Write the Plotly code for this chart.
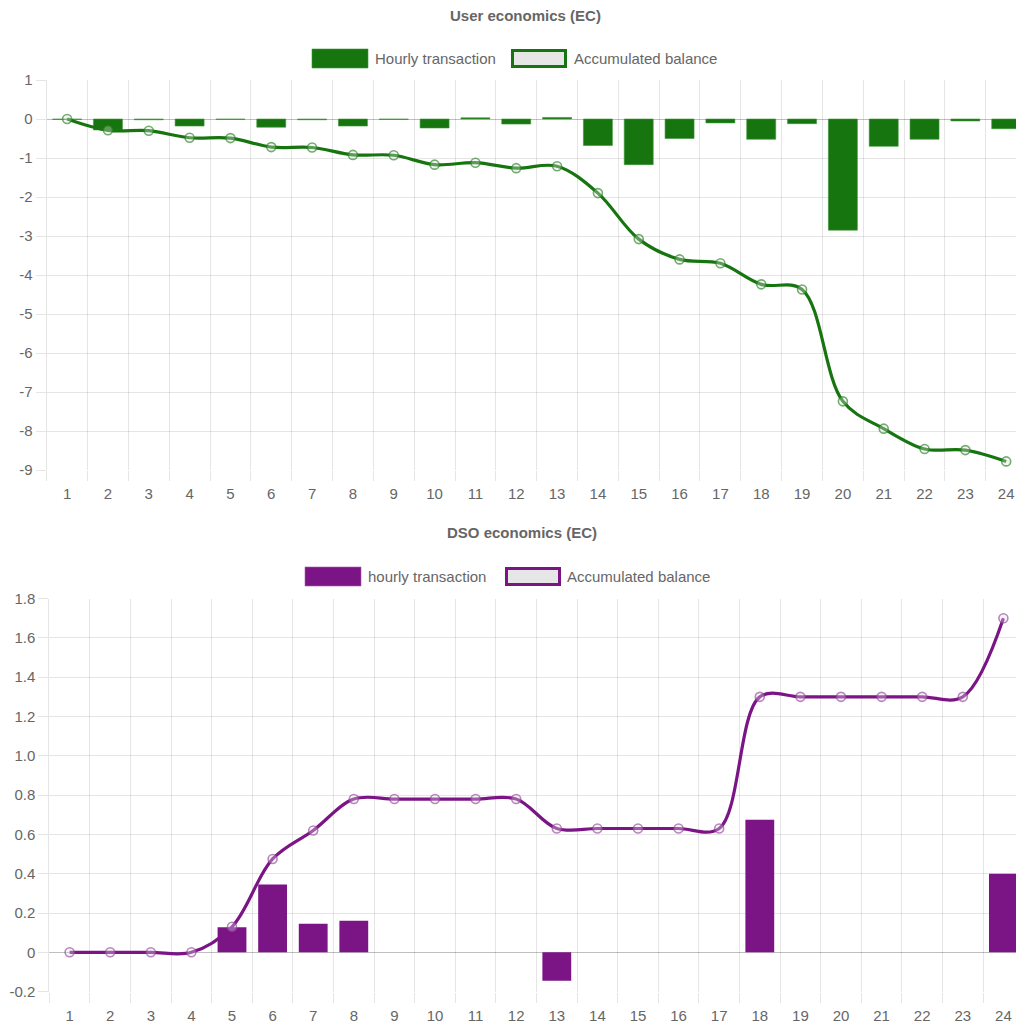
import plotly.graph_objects as go

# ---------------- data ----------------
hours = list(range(1, 25))
hour_labels = [str(h) for h in hours]

user_hourly = [-0.01, -0.28, -0.02, -0.18, -0.01, -0.21, -0.02, -0.18, -0.01, -0.23, 0.03, -0.13,
               0.04, -0.68, -1.17, -0.50, -0.10, -0.52, -0.12, -2.85, -0.70, -0.52, -0.05, -0.25]
user_balance = [0.0, -0.29, -0.30, -0.48, -0.49, -0.72, -0.73, -0.92, -0.93, -1.17, -1.12, -1.26,
                -1.21, -1.90, -3.08, -3.60, -3.70, -4.24, -4.37, -7.24, -7.94, -8.46, -8.49, -8.78]

dso_hourly = [0, 0, 0, 0, 0.127, 0.345, 0.145, 0.16, 0, 0, 0, 0,
              -0.145, 0, 0, 0, 0, 0.675, 0, 0, 0, 0, 0, 0.40]
dso_balance = [0.0, 0.0, 0.0, 0.0, 0.13, 0.475, 0.62, 0.78, 0.78, 0.78, 0.78, 0.78,
               0.63, 0.63, 0.63, 0.63, 0.63, 1.30, 1.30, 1.30, 1.30, 1.30, 1.30, 1.70]

user_title = "User economics (EC)"
dso_title = "DSO economics (EC)"
user_legend = ["Hourly transaction", "Accumulated balance"]
dso_legend = ["hourly transaction", "Accumulated balance"]

user_ticks = [-9, -8, -7, -6, -5, -4, -3, -2, -1, 0, 1]
dso_ticks = [-0.2, 0, 0.2, 0.4, 0.6, 0.8, 1.0, 1.2, 1.4, 1.6, 1.8]
dso_tick_text = ["-0.2", "0", "0.2", "0.4", "0.6", "0.8", "1.0", "1.2", "1.4", "1.6", "1.8"]

# ---------------- styles ----------------
W, H = 1016, 1023
GREEN = "rgb(23,117,16)"
GREEN_EDGE = "rgba(60,150,55,0.6)"
PURPLE = "rgb(123,21,134)"
PURPLE_EDGE = "rgba(170,90,180,0.6)"
FONT = "Liberation Sans, Arial, Helvetica, sans-serif"
TXT = "#666666"
GRID = "rgba(0,0,0,0.1)"
FS = 15


def px(x):
    return x / W


def py(y):
    return 1 - y / H


fig = go.Figure()

# top chart
fig.add_trace(go.Bar(x=hours, y=user_hourly, width=0.71, marker=dict(color=GREEN, line=dict(color=GREEN_EDGE, width=1)),
                     xaxis="x", yaxis="y", showlegend=False, name=user_legend[0]))
fig.add_trace(go.Scatter(x=hours, y=user_balance, mode="lines+markers",
                         line=dict(color=GREEN, width=3.2, shape="spline", smoothing=1.0),
                         marker=dict(symbol="circle", size=9, color="rgba(225,225,225,0.35)",
                                     line=dict(color="rgba(40,130,35,0.65)", width=1.6)),
                         xaxis="x", yaxis="y", showlegend=False, name=user_legend[1]))

# bottom chart
fig.add_trace(go.Bar(x=hours, y=dso_hourly, width=0.71, marker=dict(color=PURPLE, line=dict(width=0)),
                     xaxis="x2", yaxis="y2", showlegend=False, name=dso_legend[0]))
fig.add_trace(go.Scatter(x=hours, y=dso_balance, mode="lines+markers",
                         line=dict(color=PURPLE, width=3.2, shape="spline", smoothing=1.0),
                         marker=dict(symbol="circle", size=9, color="rgba(225,225,225,0.35)",
                                     line=dict(color="rgba(150,70,160,0.65)", width=1.6)),
                         xaxis="x2", yaxis="y2", showlegend=False, name=dso_legend[1]))

boundaries = [h - 0.5 for h in hours]


def xaxis(domain_left, rng, anchor):
    return dict(domain=[px(domain_left), 1], range=rng, anchor=anchor, automargin=False,
                tickmode="array", tickvals=hours, ticktext=hour_labels,
                ticks="outside", ticklen=10, tickcolor="rgba(0,0,0,0)",
                showgrid=False, zeroline=False, showline=False,
                tickfont=dict(family=FONT, size=FS, color=TXT),
                minor=dict(tickmode="array", tickvals=boundaries, showgrid=True, gridcolor=GRID, gridwidth=1,
                           ticks="outside", ticklen=10, tickcolor=GRID, tickwidth=1))


def yaxis(dom, rng, tv, tt, anchor):
    return dict(domain=dom, range=rng, anchor=anchor, automargin=False, tickmode="array", tickvals=tv, ticktext=tt,
                ticks="outside", ticklen=10, tickcolor=GRID, showgrid=True, gridcolor=GRID, gridwidth=1,
                zeroline=True, zerolinecolor="rgba(0,0,0,0.25)", zerolinewidth=1,
                showline=True, linecolor=GRID, linewidth=1,
                tickfont=dict(family=FONT, size=FS, color=TXT))


fig.update_layout(
    width=W, height=H, margin=dict(l=0, r=0, t=0, b=0, pad=0, autoexpand=False),
    paper_bgcolor="white", plot_bgcolor="white",
    barmode="overlay", showlegend=False,
    xaxis=xaxis(46.7, [0.5, 0.5 + (W - 46.7) / 40.83], "y"),
    yaxis=yaxis([py(470), py(80)], [-9, 1], user_ticks, [str(t) for t in user_ticks], "x"),
    xaxis2=xaxis(49.3, [0.5, 0.5 + (W - 49.3) / 40.6], "y2"),
    yaxis2=yaxis([py(991.6), py(598.6)], [-0.2, 1.8], dso_ticks, dso_tick_text, "x2"),
)

shapes = []
annotations = []


def add_title(text, cx, cy):
    annotations.append(dict(text="<b>" + text + "</b>", x=px(cx), y=py(cy), xref="paper", yref="paper",
                            xanchor="center", yanchor="middle", showarrow=False,
                            font=dict(family=FONT, size=FS, color=TXT)))


def add_legend(labels, color, edge, box1_x, box2_x, y0, y1, text1_x, text2_x):
    shapes.append(dict(type="rect", xref="paper", yref="paper", x0=px(box1_x), x1=px(box1_x + 56),
                       y0=py(y1), y1=py(y0), fillcolor=color, line=dict(color=edge, width=1)))
    shapes.append(dict(type="rect", xref="paper", yref="paper", x0=px(box2_x + 1.5), x1=px(box2_x + 54.5),
                       y0=py(y1 - 1.5), y1=py(y0 + 1.5), fillcolor="#e6e6e6", line=dict(color=color, width=3)))
    cy = (y0 + y1) / 2
    for t, tx in zip(labels, [text1_x, text2_x]):
        annotations.append(dict(text=t, x=px(tx), y=py(cy), xref="paper", yref="paper",
                                xanchor="left", yanchor="middle", showarrow=False,
                                font=dict(family=FONT, size=FS, color=TXT)))


add_title(user_title, 525, 16)
add_legend(user_legend, GREEN, GREEN_EDGE, 312, 511, 49, 68, 373, 572)
add_title(dso_title, 522, 532)
add_legend(dso_legend, PURPLE, PURPLE_EDGE, 305, 505, 567, 586, 366, 565)

fig.update_layout(shapes=shapes, annotations=annotations)

page_css = ("document.documentElement.style.margin='0';document.documentElement.style.padding='0';"
            "document.documentElement.style.overflow='hidden';"
            "document.body.style.margin='0';document.body.style.padding='0';document.body.style.overflow='hidden';")

fig.write_html("out.html", post_script=page_css, config={"displayModeBar": False})
